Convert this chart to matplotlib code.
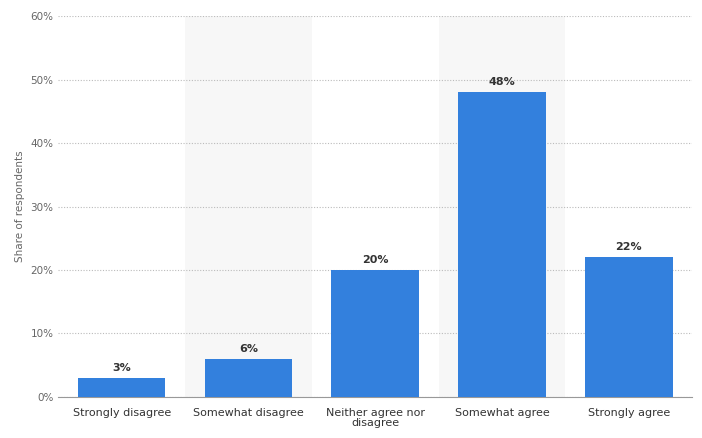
import matplotlib
matplotlib.use("Agg")
import matplotlib.pyplot as plt
import numpy as np

categories = ["Strongly disagree", "Somewhat disagree", "Neither agree nor\ndisagree",
              "Somewhat agree", "Strongly agree"]
values = [3, 6, 20, 48, 22]
yticks = [0, 10, 20, 30, 40, 50, 60]

fig = plt.figure(figsize=(7.02, 4.38), dpi=100)
ax = fig.add_axes([0.083, 0.094, 0.903, 0.869])

x = np.arange(len(categories))
# shaded bands behind every second category
for i in x:
    if i % 2 == 1:
        ax.axvspan(i - 0.5, i + 0.5, color="#f7f7f7", zorder=0, lw=0)

ax.bar(x, values, width=0.69, color="#3380dd", zorder=3)
for xi, v in zip(x, values):
    ax.text(xi, v + 0.8, f"{v}%", ha="center", va="bottom", fontsize=8,
            fontweight="bold", color="#333333", zorder=4)

ax.set_xlim(-0.5, len(categories) - 0.5)
ax.set_ylim(0, 60)
ax.set_yticks(yticks)
ax.set_yticklabels([f"{t}%" for t in yticks], fontsize=7.5, color="#666666")
ax.set_xticks(x)
ax.set_xticklabels(categories, fontsize=8, color="#333333", linespacing=1.0)
ax.set_ylabel("Share of respondents", fontsize=7.5, color="#666666")
ax.yaxis.grid(True, linestyle=(0, (1, 1.5)), color="#bbbbbb", lw=0.8, zorder=1)
ax.tick_params(axis="both", length=0)
ax.tick_params(axis="x", pad=8)
for s in ["top", "right", "left"]:
    ax.spines[s].set_visible(False)
ax.spines["bottom"].set_color("#999999")

fig.savefig("out.png", dpi=100)
